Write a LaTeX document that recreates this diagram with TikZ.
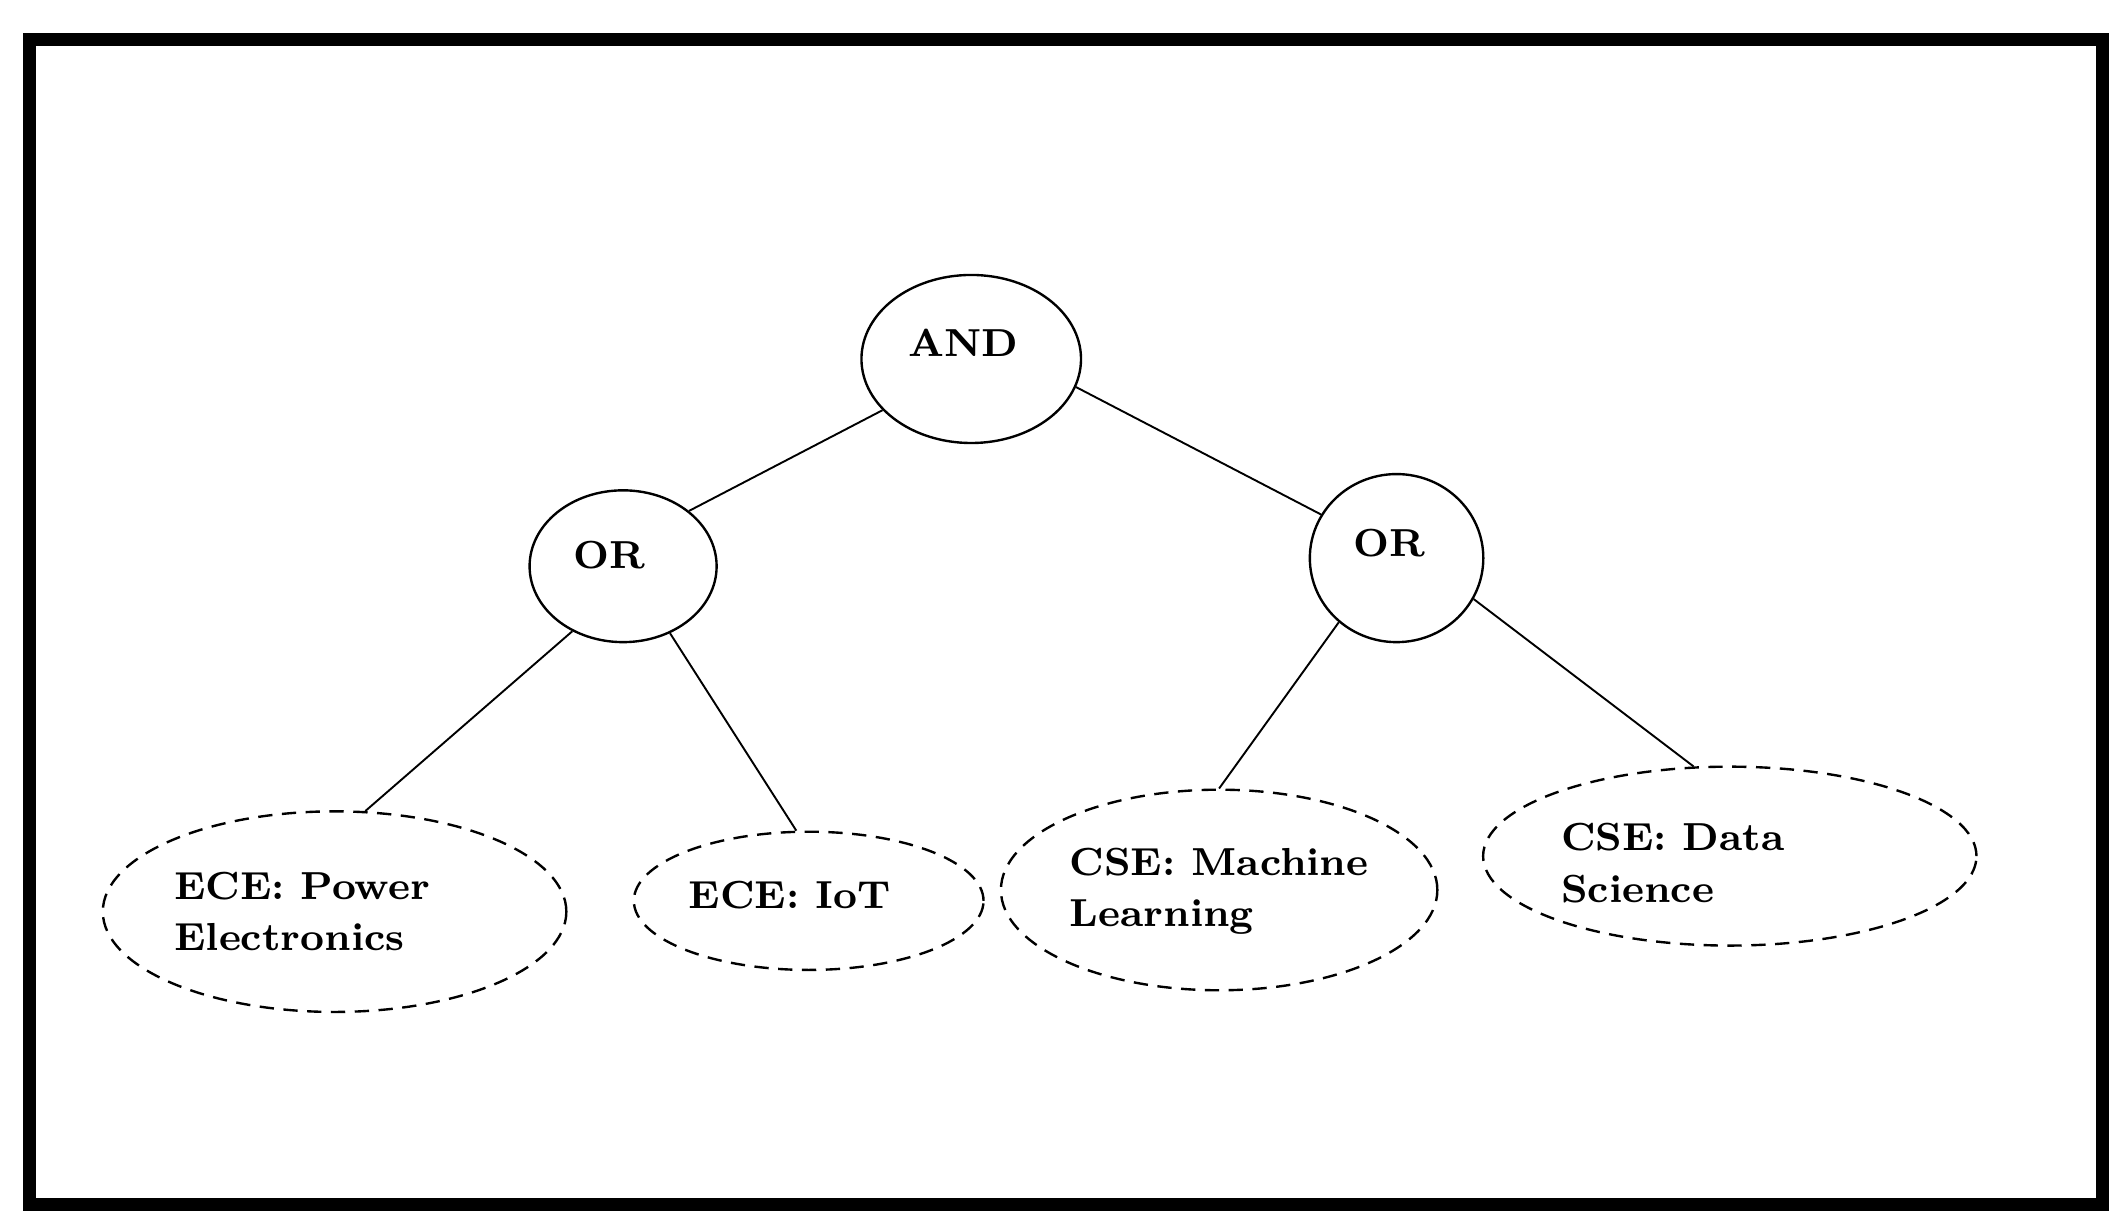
\documentclass[tikz,border=0pt]{standalone}
\usetikzlibrary{shapes.geometric}
\begin{document}
\begin{tikzpicture}[x=0.01cm,y=-0.01cm]
\tikzstyle{every node}+=[inner sep=0pt, font=\fontsize{8.2}{10.8}\selectfont\bfseries, align=left]
\tikzstyle{gate}=[draw, ellipse, line width=0.5pt]
\tikzstyle{leaf}=[draw, ellipse, dashed, line width=0.5pt, dash pattern=on 3pt off 2pt]
\useasboundingbox (0,0) rectangle (1568,908);
\draw [line width=2.8pt] (22,29) rectangle (1552,889);
% gates
\node [gate, minimum width=1.62cm, minimum height=1.24cm] (and) at (717,265) {};
\node at (711,253) {AND};
\node [gate, minimum width=1.38cm, minimum height=1.12cm] (orl) at (460,418) {};
\node at (450,410) {OR};
\node [gate, minimum width=1.28cm, minimum height=1.24cm] (orr) at (1031,412) {};
\node at (1026,401) {OR};
% leaves
\node [leaf, minimum width=3.42cm, minimum height=1.48cm] (pe) at (247,673) {};
\node at (223,673) {ECE: Power\\Electronics};
\node [leaf, minimum width=2.58cm, minimum height=1.02cm] (iot) at (597,665) {};
\node at (583,661) {ECE: IoT};
\node [leaf, minimum width=3.22cm, minimum height=1.48cm] (ml) at (900,657) {};
\node at (900,658) {CSE: Machine\\Learning};
\node [leaf, minimum width=3.64cm, minimum height=1.32cm] (ds) at (1277,632) {};
\node at (1235,637) {CSE: Data\\Science};
% edges
\draw (and.210) -- (orl.40);
\draw (and.-15) -- (orr.150);
\draw (orl.-128) -- (pe.73);
\draw (orl.-55) -- (iot.100);
\draw (orr.-132) -- (ml.90);
\draw (orr.-28) -- (ds.112);
\end{tikzpicture}
\end{document}
